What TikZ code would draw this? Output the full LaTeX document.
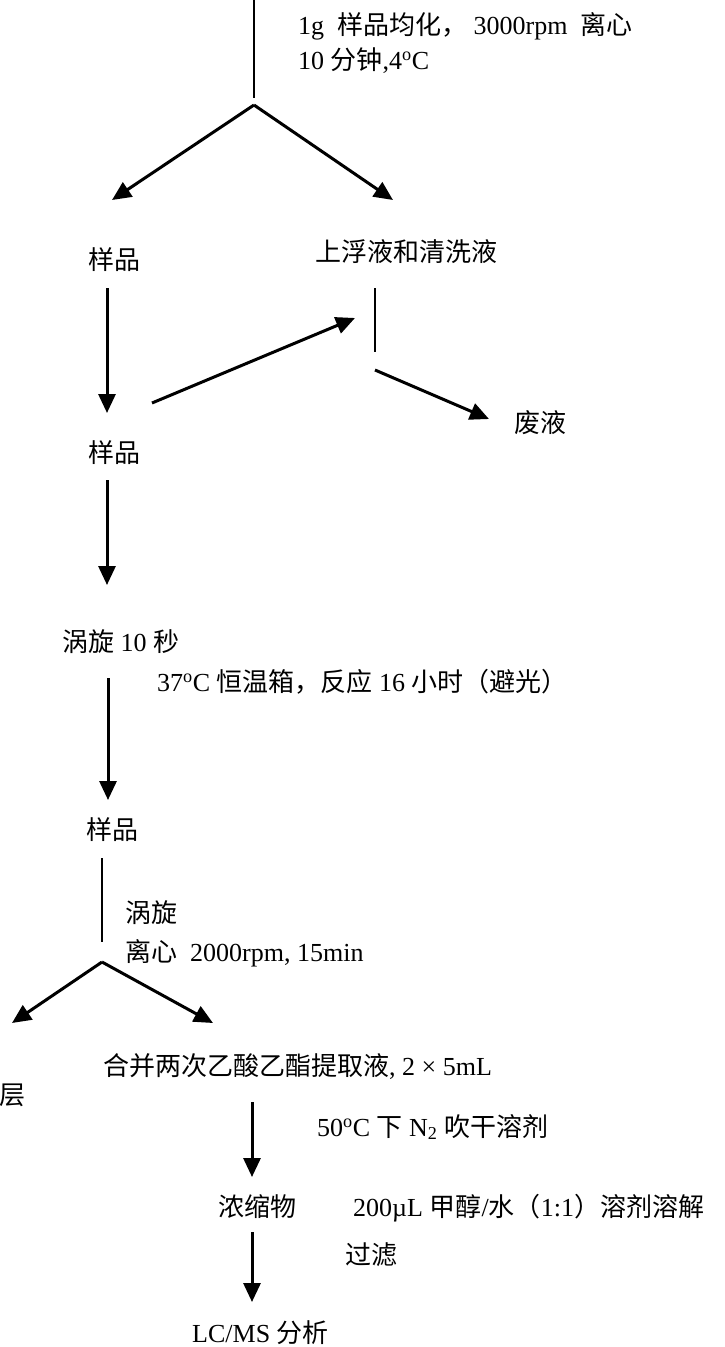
\documentclass[tikz,border=0pt]{standalone}
\usepackage{fontspec}
\setmainfont{Liberation Serif}
\newfontfamily\cjk{Noto Sans CJK SC}
\usetikzlibrary{arrows.meta}
\begin{document}
\begin{tikzpicture}[x=1pt,y=-1pt,
  txt/.style={inner sep=0pt,font=\fontsize{26}{31}\selectfont},
  lt/.style={txt,anchor=west},
  arr/.style={line width=3pt,-{Triangle[length=19pt,width=17pt]}},
  ln/.style={line width=1.7pt}]
\useasboundingbox (0,0) rectangle (725,1347);
% texts
\node[lt] (t1) at (298,26) {1g\ \ {\cjk 样品均化，}\ 3000rpm\ \ {\cjk 离心}};
\node[lt] (t2) at (298,61) {10 {\cjk 分钟},4\textsuperscript{o}C};
\node[txt] (s1) at (114,260) {\cjk 样品};
\node[txt] (sup) at (406,252) {\cjk 上浮液和清洗液};
\node[txt] (s2) at (114,453) {\cjk 样品};
\node[txt] (waste) at (540,423) {\cjk 废液};
\node[lt] (vort) at (62,642) {{\cjk 涡旋} 10 {\cjk 秒}};
\node[lt] (incub) at (157,682) {37\textsuperscript{o}C {\cjk 恒温箱，反应} 16 {\cjk 小时（避光）}};
\node[txt] (s3) at (112,830) {\cjk 样品};
\node[lt] (vort2) at (125,913) {\cjk 涡旋};
\node[lt] (cent) at (125,953) {{\cjk 离心}\ \ 2000rpm, 15min};
\node[lt] (comb) at (103,1067) {{\cjk 合并两次乙酸乙酯提取液}, 2 × 5mL};
\node[txt] (layer) at (12,1095) {\cjk 层};
\node[lt] (dry) at (317,1127) {50\textsuperscript{o}C {\cjk 下} N\textsubscript{2} {\cjk 吹干溶剂}};
\node[txt] (conc) at (257,1207) {\cjk 浓缩物};
\node[lt] (diss) at (353,1208) {200µL {\cjk 甲醇}/{\cjk 水（}1:1{\cjk ）溶剂溶解}};
\node[lt] (filt) at (345,1255) {\cjk 过滤};
\node[lt] (lcms) at (192,1333) {LC/MS {\cjk 分析}};
% coordinates
\coordinate (top) at (254,0);
\coordinate (topE) at (254,98);
\coordinate (b1) at (254,105);
\coordinate (b1L) at (112,200);
\coordinate (b1R) at (393,200);
\coordinate (s1d) at (107,288);
\coordinate (s2u) at (107,413);
\coordinate (s2r) at (152,403);
\coordinate (supin) at (355,318);
\coordinate (supT) at (375,288);
\coordinate (supB) at (375,352);
\coordinate (wst) at (375,370);
\coordinate (wend) at (489,419);
\coordinate (s2d) at (107,480);
\coordinate (vortu) at (107,585);
\coordinate (vortd) at (108,678);
\coordinate (s3u) at (108,800);
\coordinate (s3d) at (102,858);
\coordinate (s3e) at (102,942);
\coordinate (b2) at (102,962);
\coordinate (b2L) at (12,1023);
\coordinate (b2R) at (213,1023);
\coordinate (combd) at (252,1102);
\coordinate (concu) at (252,1177);
\coordinate (concd) at (252,1232);
\coordinate (lcu) at (252,1302);
% connectors
\draw[ln] (top) -- (topE);
\draw[arr] (b1) -- (b1L);
\draw[arr] (b1) -- (b1R);
\draw[arr] (s1d) -- (s2u);
\draw[arr] (s2r) -- (supin);
\draw[ln] (supT) -- (supB);
\draw[arr] (wst) -- (wend);
\draw[arr] (s2d) -- (vortu);
\draw[arr] (vortd) -- (s3u);
\draw[ln] (s3d) -- (s3e);
\draw[arr] (b2) -- (b2L);
\draw[arr] (b2) -- (b2R);
\draw[arr] (combd) -- (concu);
\draw[arr] (concd) -- (lcu);
\end{tikzpicture}
\end{document}
